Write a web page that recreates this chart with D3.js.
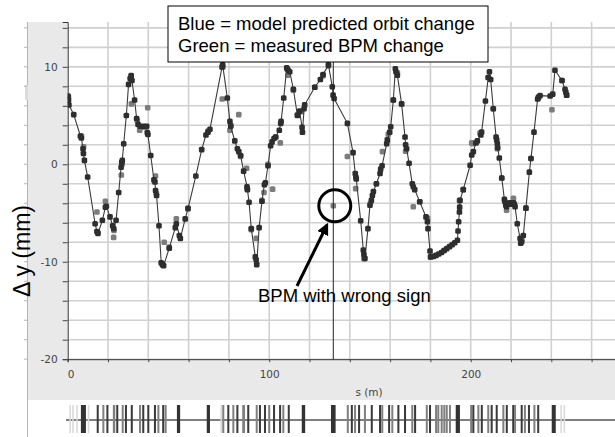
<!DOCTYPE html>
<html>
<head>
<meta charset="utf-8">
<script src="https://cdn.jsdelivr.net/npm/d3@7"></script>
<style>
  html, body { margin: 0; padding: 0; background: #fff; }
  svg { display: block; }
</style>
</head>
<body>
<svg id="chart" width="615" height="437"></svg>
<script>
// Model-predicted vertical orbit change at each BPM: position s (m), Δy (mm)
const modelS = [0.2,0.4,0.6,3.0,6.3,6.8,7.6,7.8,8.3,9.9,13.6,14.5,15.0,17.2,18.7,19.2,21.0,22.3,22.8,24.0,25.3,26.5,26.8,27.1,27.8,29.1,30.2,31.0,31.5,31.9,33.2,34.2,34.9,36.0,37.7,39.2,39.5,39.8,41.2,42.8,43.3,43.6,44.1,45.3,46.4,47.0,47.6,50.4,53.4,53.9,55.4,55.9,58.3,59.7,63.6,66.5,68.6,69.6,70.6,76.6,76.9,79.2,80.5,80.9,82.9,84.2,84.9,85.8,87.3,89.0,89.2,90.0,91.1,93.1,93.5,93.8,95.0,96.4,97.6,98.1,99.4,100.7,101.4,102.4,103.2,105.0,105.7,105.9,107.2,108.7,109.3,110.2,112.0,114.0,115.1,116.3,116.5,117.3,117.6,122.6,125.4,126.7,129.4,131.3,131.7,132.2,138.8,141.6,142.7,143.0,143.2,145.4,146.7,147.0,147.5,149.0,150.0,150.7,151.2,151.7,153.2,155.0,155.3,156.0,158.3,158.6,159.8,160.3,161.6,162.6,162.9,163.6,165.7,167.4,167.7,168.2,169.4,171.0,171.5,172.2,174.7,177.8,178.5,178.8,179.8,180.1,181.5,182.8,184.1,185.5,186.8,188.1,189.5,190.8,192.1,193.4,193.7,194.0,194.4,194.5,194.7,196.3,199.7,200.5,201.3,202.6,203.3,205.0,205.4,207.3,208.7,209.3,209.9,211.2,212.6,212.9,213.2,213.4,214.2,215.4,216.7,217.0,217.4,217.8,219.2,219.5,220.3,221.2,221.7,222.0,223.1,224.5,224.8,225.3,226.1,227.4,229.1,229.9,231.4,233.2,233.6,234.4,239.4,240.7,241.8,245.3,246.8,247.2,247.6];
const modelDy = [7.0,6.6,6.1,5.1,2.9,2.7,1.6,1.1,0.4,-1.3,-6.1,-6.9,-7.1,-5.75,-4.4,-4.3,-5.4,-6.3,-6.6,-5.75,-2.9,-0.3,0.2,0.4,2.1,5.0,8.2,8.8,9.1,8.6,6.6,4.7,4.1,3.9,3.9,3.9,3.25,3.05,0.9,-1.6,-1.8,-2.7,-3.2,-6.3,-10.1,-10.3,-10.4,-8.6,-6.5,-6.1,-7.3,-7.6,-5.6,-4.55,-1.2,1.5,3.0,3.3,3.6,10.0,10.2,6.8,4.4,3.9,2.4,1.6,1.3,0.9,-0.7,-2.3,-2.6,-3.9,-6.6,-9.5,-9.8,-10.3,-6.5,-3.8,-2.1,-1.9,-0.15,1.9,2.3,2.65,2.8,3.5,4.2,4.4,6.8,9.9,9.7,9.5,7.7,5.0,5.45,3.8,3.3,5.7,6.1,7.9,8.7,9.2,10.2,7.95,7.1,6.75,4.2,1.2,-0.95,-1.3,-1.5,-5.8,-8.8,-9.25,-9.65,-6.6,-4.2,-3.7,-3.2,-2.8,-2.0,-0.95,-0.5,-0.15,2.1,2.5,3.3,3.85,6.6,9.8,9.5,9.15,6.2,2.8,2.0,1.6,0.1,-2.0,-2.3,-2.6,-3.85,-5.4,-5.9,-6.6,-8.9,-9.5,-9.45,-9.35,-9.2,-9.05,-8.85,-8.65,-8.45,-8.25,-8.05,-7.8,-6.85,-5.9,-4.9,-4.4,-3.7,-2.6,-0.1,0.95,1.3,2.2,2.4,3.0,3.3,6.5,8.9,9.5,8.7,5.7,2.8,2.5,2.1,1.7,0.65,-1.4,-3.6,-3.85,-4.2,-4.35,-4.1,-3.95,-4.1,-3.95,-4.1,-4.35,-6.1,-7.6,-8.1,-7.95,-7.3,-4.5,-0.8,0.6,3.3,6.7,6.9,7.05,7.0,7.2,9.65,8.6,7.7,7.4,7.1];

// Measured BPM orbit change: position s (m), Δy (mm)
const measS = [0.4,6.8,7.9,14.5,15.0,18.7,22.8,23.0,26.6,27.0,31.6,31.5,34.5,35.7,37.7,39.7,43.6,44.0,47.0,47.9,50.4,53.9,59.7,69.6,76.7,77.0,80.5,81.0,84.9,85.8,88.8,89.0,91.1,93.6,96.4,97.4,99.4,101.7,103.2,105.5,108.7,109.3,112.0,114.0,116.0,122.6,126.7,129.4,131.8,138.8,142.9,147.0,150.2,153.2,156.2,159.1,161.6,163.6,165.7,167.7,171.5,174.7,178.6,180.1,186.8,194.4,196.3,200.5,201.0,204.6,208.7,211.2,213.2,215.4,217.8,221.2,225.3,227.4,229.9,233.6,240.3,245.3,247.6];
const measDy = [6.9,2.9,1.8,-4.9,-7.0,-3.8,-7.5,-6.8,-1.1,0.0,6.2,9.0,4.5,3.5,3.8,5.8,-1.2,-3.0,-10.2,-8.0,-8.5,-5.6,-4.5,3.4,6.7,10.0,3.5,4.0,5.1,0.8,-0.4,-2.5,-6.7,-7.6,-3.7,-2.9,0.0,-2.55,2.8,2.2,9.8,9.15,7.6,5.1,5.4,7.9,9.1,10.1,-4.26,0.8,-2.5,-9.7,-4.0,-2.0,1.3,3.1,6.6,9.4,6.2,1.35,-4.35,-3.85,-5.55,-9.5,-8.85,-3.7,-2.6,2.2,2.1,3.2,8.9,5.7,1.6,-1.4,-4.7,-3.5,-7.7,-4.5,0.6,6.8,5.6,8.6,7.1];

// Axis ticks
const yTickValues = [-20,-18,-16,-14,-12,-10,-8,-6,-4,-2,0,2,4,6,8,10,12,14];
const yTickLabels = [-20,-10,0,10];
const xTickValues = [0,20,40,60,80,100,120,140,160,180,200,220,240,260];
const xTickLabels = [0,100,200];

// Lattice elements along the ring: centre s (m), length (m), kind
const latticeS = [1.1,2.5,4.5,7.8,10.2,14.9,17.7,19.7,23.0,24.6,27.3,28.9,31.8,35.9,37.5,40.0,43.3,45.0,47.4,48.6,55.0,69.8,76.1,77.2,79.7,82.2,84.2,87.3,89.6,93.8,95.4,97.9,100.0,102.4,105.4,107.0,109.7,117.0,131.8,139.0,141.0,142.6,144.6,147.5,150.9,155.0,156.1,159.5,161.1,164.1,167.4,171.0,172.4,178.2,179.8,182.8,183.9,185.6,186.9,188.1,189.7,193.6,200.2,201.3,203.8,205.5,208.7,210.4,212.9,216.2,217.9,221.1,222.0,225.3,226.9,228.9,231.6,233.5,241.2,244.8,246.4];
const latticeLen = [0.5,0.5,0.5,2.5,0.5,1,1,1,1.2,1,1,1,1,1,1,1,1,1,1,1,1.6,1.6,0.6,1,1,1,1,1.4,1,1,1,1,1,1,1,1,1,1.7,2.3,1,1,1,1,1,1,1,1,1,1,1,1,1,1,1,1,1,1,1,1,1,1,2.1,1,1,1,1,1,1,1,1,1,1,1,1,1,1,1,1,2,0.6,0.6];
const latticeKind = ["c","c","c","d","c","q","f","q","f","q","f","q","q","f","q","q","q","f","q","f","d","d","c","f","q","f","q","f","q","f","q","q","f","q","q","f","q","d","d","f","q","f","q","f","q","q","f","q","f","q","q","f","q","f","q","f","f","f","f","f","f","d","f","q","f","q","f","q","q","f","q","q","f","q","f","q","f","q","d","c","c"];

const W = 615, H = 437;
const svg = d3.select("#chart");

const plotL = 67.7, plotR = 615, plotT = 22, plotB = 359.2;
const x = d3.scaleLinear().domain([0, 271.6]).range([plotL, plotR]);
const y = d3.scaleLinear().domain([-20, 14.6]).range([plotB, plotT]);

// Grey frame around the plotting area
svg.append("rect").attr("x", 27).attr("y", 22).attr("width", W - 27).attr("height", 400 - 22)
  .attr("fill", "#e9e9e9");
svg.append("line").attr("x1", 27.5).attr("x2", 27.5).attr("y1", 22).attr("y2", H)
  .attr("stroke", "#b5b5b5").attr("stroke-width", 1);
svg.append("rect").attr("x", 25).attr("y", 85).attr("width", 3).attr("height", 15).attr("fill", "#dcdcdc");
svg.selectAll(".edgeTick").data(yTickValues).join("line")
  .attr("x1", 24).attr("x2", 27).attr("y1", d => y(d)).attr("y2", d => y(d))
  .attr("stroke", "#b5b5b5");

svg.append("rect").attr("x", plotL).attr("y", plotT).attr("width", plotR - plotL).attr("height", plotB - plotT)
  .attr("fill", "#fff");

// Grid
const grid = svg.append("g");
grid.selectAll(".hg").data(yTickValues).join("line")
  .attr("x1", plotL).attr("x2", plotR).attr("y1", d => y(d)).attr("y2", d => y(d))
  .attr("stroke", "#d0d0d0").attr("stroke-width", 1.6);
grid.selectAll(".vg").data(xTickValues.filter(d => d > 0)).join("line")
  .attr("x1", d => x(d)).attr("x2", d => x(d)).attr("y1", plotT).attr("y2", plotB)
  .attr("stroke", "#d0d0d0").attr("stroke-width", 1.6);

// Axes
const yAxis = d3.axisLeft(y).tickValues(yTickValues).tickSize(5).tickPadding(5)
  .tickFormat(d => yTickLabels.includes(d) ? (d < 0 ? "-" + Math.abs(d) : d) : "");
const gy = svg.append("g").attr("transform", `translate(${plotL},0)`).call(yAxis);
gy.select(".domain").attr("stroke", "#333");
gy.selectAll(".tick line").attr("stroke", "#444");
gy.selectAll(".tick text").attr("fill", "#444").style("font-family", "DejaVu Sans").style("font-size", "10.5px");

const xAxis = d3.axisBottom(x).tickValues(xTickValues).tickSize(3).tickPadding(8)
  .tickFormat(d => xTickLabels.includes(d) ? d : "");
const gx = svg.append("g").attr("transform", `translate(0,${plotB})`).call(xAxis);
gx.select(".domain").attr("stroke", "#333");
gx.selectAll(".tick line").attr("stroke", "#444");
gx.selectAll(".tick text").attr("fill", "#444").style("font-family", "DejaVu Sans").style("font-size", "10.5px")
  .attr("dx", d => d === 0 ? 3 : 0);

svg.append("text").attr("x", 369).attr("y", 396).attr("text-anchor", "middle")
  .attr("fill", "#444").style("font-family", "DejaVu Sans").style("font-size", "10.5px").text("s (m)");

// Data
const clip = svg.append("clipPath").attr("id", "plotClip").append("rect")
  .attr("x", plotL).attr("y", plotT).attr("width", plotR - plotL).attr("height", plotB - plotT);
const data = svg.append("g").attr("clip-path", "url(#plotClip)");

const model = modelS.map((s, i) => ({ s, v: modelDy[i] }));
const meas = measS.map((s, i) => ({ s, v: measDy[i] }));
const pt = 5.6;

data.selectAll(".meas").data(meas).join("rect")
  .attr("x", d => x(d.s) - pt / 2).attr("y", d => y(d.v) - pt / 2)
  .attr("width", pt).attr("height", pt).attr("rx", 1.5)
  .attr("fill", "#7c7c7c");

data.append("path").datum(model)
  .attr("d", d3.line().x(d => x(d.s)).y(d => y(d.v)))
  .attr("fill", "none").attr("stroke", "#3a3a3a").attr("stroke-width", 1.1);

data.selectAll(".model").data(model).join("rect")
  .attr("x", d => x(d.s) - pt / 2).attr("y", d => y(d.v) - pt / 2)
  .attr("width", pt).attr("height", pt).attr("rx", 1.5)
  .attr("fill", "#2e2e2e");

// Marker at the suspect BPM
const badS = 131.8, badV = -4.26;
svg.append("line").attr("x1", x(badS)).attr("x2", x(badS)).attr("y1", 62).attr("y2", plotB)
  .attr("stroke", "#222").attr("stroke-width", 1);
svg.append("circle").attr("cx", x(badS) + 1.5).attr("cy", y(badV)).attr("r", 16)
  .attr("fill", "none").attr("stroke", "#000").attr("stroke-width", 3);

svg.append("defs").append("marker").attr("id", "arrowHead")
  .attr("viewBox", "0 0 10 10").attr("refX", 8).attr("refY", 5)
  .attr("markerWidth", 4).attr("markerHeight", 4).attr("orient", "auto")
  .append("path").attr("d", "M0,0 L10,5 L0,10 Z").attr("fill", "#000");
svg.append("line").attr("x1", 297).attr("y1", 286).attr("x2", 327).attr("y2", 225)
  .attr("stroke", "#000").attr("stroke-width", 3).attr("marker-end", "url(#arrowHead)");

svg.append("text").attr("x", 258).attr("y", 302)
  .style("font-family", "Liberation Sans, Arial, sans-serif").style("font-size", "18.5px")
  .attr("fill", "#000").text("BPM with wrong sign");

// Legend box
svg.append("rect").attr("x", 168).attr("y", 6).attr("width", 320).attr("height", 56)
  .attr("fill", "#fff").attr("stroke", "#000").attr("stroke-width", 1);
svg.append("text").attr("x", 178).attr("y", 30)
  .style("font-family", "Liberation Sans, Arial, sans-serif").style("font-size", "18.5px")
  .text("Blue = model predicted orbit change");
svg.append("text").attr("x", 178).attr("y", 52)
  .style("font-family", "Liberation Sans, Arial, sans-serif").style("font-size", "18.5px")
  .text("Green = measured BPM change");

// Y axis title
svg.append("text").attr("transform", "translate(30,251) rotate(-90)").attr("text-anchor", "middle")
  .style("font-family", "Liberation Sans, Arial, sans-serif").style("font-size", "23px")
  .attr("fill", "#000").text("Δ y (mm)");

// Lattice strip
const lat = svg.append("g");
lat.append("line").attr("x1", 66).attr("x2", W).attr("y1", 420).attr("y2", 420)
  .attr("stroke", "#555").attr("stroke-width", 1.5);
const kindFill = { d: "#333", q: "#3a3a3a", f: "#808080", c: "#d8d8d8" };
lat.selectAll(".mag").data(latticeS.map((s, i) => ({ s, len: latticeLen[i], k: latticeKind[i] }))).join("rect")
  .attr("x", d => x(d.s - d.len / 2)).attr("width", d => Math.max(1.5, x(d.s + d.len / 2) - x(d.s - d.len / 2)))
  .attr("y", 405).attr("height", 28)
  .attr("fill", d => kindFill[d.k]);
</script>
</body>
</html>
